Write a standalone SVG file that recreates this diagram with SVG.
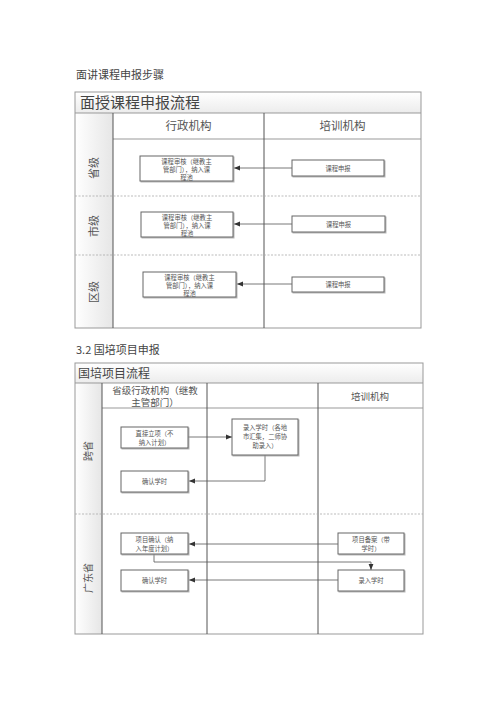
<svg xmlns="http://www.w3.org/2000/svg" width="500" height="707" viewBox="0 0 500 707">
<defs>
<linearGradient id="lg" x1="0" y1="0" x2="1" y2="0">
<stop offset="0" stop-color="#ffffff"/><stop offset="1" stop-color="#e6e6e6"/>
</linearGradient>
<linearGradient id="tg" x1="0" y1="0" x2="0" y2="1">
<stop offset="0" stop-color="#ffffff"/><stop offset="1" stop-color="#ececec"/>
</linearGradient>
<marker id="ah" viewBox="0 0 10 10" refX="10" refY="5" markerWidth="6" markerHeight="6" orient="auto" markerUnits="userSpaceOnUse">
<path d="M0,1 L10,5 L0,9 z" fill="#333"/>
</marker>
<filter id="sh" x="-10%" y="-10%" width="130%" height="140%">
<feDropShadow dx="1" dy="1" stdDeviation="0.6" flood-color="#999" flood-opacity="0.7"/>
</filter>
</defs>
<style>
text{font-family:"Noto Sans CJK SC","Noto Sans",sans-serif;fill:#444}
.h{font-size:11px}
.t1{font-size:15px;fill:#444}
.t2{font-size:12px;fill:#444}
.col{font-size:11.5px;fill:#555}
.lane{font-size:11px;fill:#555}
.bx{fill:#fff;stroke:#666;stroke-width:1;filter:url(#sh)}
.bt{font-size:6.3px;fill:#555}
.fr{fill:none;stroke:#999;stroke-width:1}
.dk{stroke:#555;stroke-width:1}
.ds{stroke:#aaa;stroke-width:0.8;stroke-dasharray:2 1.5}
.cn{fill:none;stroke:#555;stroke-width:0.8;marker-end:url(#ah)}
</style>
<rect width="500" height="707" fill="#fff"/>
<text x="76" y="79" class="h">面讲课程申报步骤</text>
<text x="76" y="354" class="h">3.2 国培项目申报</text>

<!-- Chart 1 -->
<g id="chart1">
<rect x="75" y="92" width="346" height="21" fill="url(#tg)"/>
<rect x="75" y="113" width="38" height="215" fill="url(#lg)"/>
<rect x="75" y="92" width="346" height="236" class="fr"/>
<line x1="75" y1="113" x2="421" y2="113" class="fr"/>
<line x1="113" y1="139" x2="421" y2="139" class="fr"/>
<line x1="113" y1="113" x2="113" y2="328" class="dk"/>
<line x1="264" y1="113" x2="264" y2="328" class="dk"/>
<line x1="75" y1="196" x2="421" y2="196" class="ds"/>
<line x1="75" y1="255" x2="421" y2="255" class="ds"/>
<text x="80" y="108" class="t1">面授课程申报流程</text>
<text x="188.5" y="130" class="col" text-anchor="middle">行政机构</text>
<text x="342.5" y="130" class="col" text-anchor="middle">培训机构</text>
<text transform="translate(98,168) rotate(-90)" class="lane" text-anchor="middle">省级</text>
<text transform="translate(98,226) rotate(-90)" class="lane" text-anchor="middle">市级</text>
<text transform="translate(98,292) rotate(-90)" class="lane" text-anchor="middle">区级</text>
</g>
<g id="c1-connectors">
<line x1="292" y1="168" x2="234" y2="168" class="cn"/>
<line x1="292" y1="224" x2="234" y2="224" class="cn"/>
<line x1="292" y1="284" x2="237" y2="284" class="cn"/>
</g>
<g id="c1-n1"><rect x="140" y="156" width="93" height="25" class="bx"/>
<text class="bt" text-anchor="middle"><tspan x="186.5" y="163.5">课程审核（继教主</tspan><tspan x="186.5" y="171.5">管部门），纳入课</tspan><tspan x="186.5" y="179.5">程池</tspan></text></g>
<g id="c1-n2"><rect x="292" y="160" width="92" height="16" class="bx"/><text x="338" y="170.5" class="bt" text-anchor="middle">课程申报</text></g>
<g id="c1-n3"><rect x="141" y="212" width="92" height="25" class="bx"/>
<text class="bt" text-anchor="middle"><tspan x="187" y="219.5">课程审核（继教主</tspan><tspan x="187" y="227.5">管部门），纳入课</tspan><tspan x="187" y="235.5">程池</tspan></text></g>
<g id="c1-n4"><rect x="292" y="216" width="93" height="16" class="bx"/><text x="338.5" y="226.5" class="bt" text-anchor="middle">课程申报</text></g>
<g id="c1-n5"><rect x="143" y="272" width="93" height="25" class="bx"/>
<text class="bt" text-anchor="middle"><tspan x="189.5" y="279.5">课程审核（继教主</tspan><tspan x="189.5" y="287.5">管部门），纳入课</tspan><tspan x="189.5" y="295.5">程池</tspan></text></g>
<g id="c1-n6"><rect x="292" y="277" width="92" height="15" class="bx"/><text x="338" y="287" class="bt" text-anchor="middle">课程申报</text></g>

<!-- Chart 2 -->
<g id="chart2">
<rect x="75" y="363" width="348" height="20" fill="url(#tg)"/>
<rect x="75" y="383" width="27" height="251" fill="url(#lg)"/>
<rect x="75" y="363" width="348" height="271" class="fr"/>
<line x1="75" y1="383" x2="423" y2="383" class="fr"/>
<line x1="102" y1="408" x2="423" y2="408" class="fr"/>
<line x1="102" y1="383" x2="102" y2="634" class="dk"/>
<line x1="207" y1="383" x2="207" y2="634" class="dk"/>
<line x1="318" y1="383" x2="318" y2="634" class="dk"/>
<line x1="75" y1="514" x2="423" y2="514" class="ds"/>
<text x="78" y="378" class="t2">国培项目流程</text>
<text class="col" text-anchor="middle" style="font-size:9.5px"><tspan x="155" y="393.5">省级行政机构（继教</tspan><tspan x="155" y="406">主管部门）</tspan></text>
<text x="370" y="400" class="col" text-anchor="middle" style="font-size:9.5px">培训机构</text>
<text transform="translate(92,451) rotate(-90)" class="lane" style="font-size:10px" text-anchor="middle">跨省</text>
<text transform="translate(92,578) rotate(-90)" class="lane" style="font-size:10px" text-anchor="middle">广东省</text>
</g>
<g id="c2-connectors">
<line x1="188" y1="437" x2="232" y2="437" class="cn"/>
<polyline points="265,455 265,481 189,481" class="cn"/>
<line x1="338" y1="544" x2="189" y2="544" class="cn"/>
<polyline points="154,554 154,562 371,562 371,570" class="cn"/>
<line x1="338" y1="580" x2="189" y2="580" class="cn"/>
</g>
<g id="c2-n1"><rect x="121" y="427" width="67" height="21" class="bx"/>
<text class="bt" text-anchor="middle"><tspan x="154.5" y="436">直接立项（不</tspan><tspan x="154.5" y="445">纳入计划）</tspan></text></g>
<g id="c2-n2"><rect x="232" y="419" width="66" height="36" class="bx"/>
<text class="bt" text-anchor="middle"><tspan x="265" y="430">录入学时（各地</tspan><tspan x="265" y="439">市汇集，二师协</tspan><tspan x="265" y="448">助录入）</tspan></text></g>
<g id="c2-n3"><rect x="121" y="471" width="67" height="21" class="bx"/><text x="154.5" y="484" class="bt" text-anchor="middle">确认学时</text></g>
<g id="c2-n4"><rect x="121" y="533" width="67" height="21" class="bx"/>
<text class="bt" text-anchor="middle"><tspan x="154.5" y="542">项目确认（纳</tspan><tspan x="154.5" y="551">入年度计划）</tspan></text></g>
<g id="c2-n5"><rect x="338" y="533" width="66" height="21" class="bx"/>
<text class="bt" text-anchor="middle"><tspan x="371" y="542">项目备案（带</tspan><tspan x="371" y="551">学时）</tspan></text></g>
<g id="c2-n6"><rect x="121" y="570" width="67" height="21" class="bx"/><text x="154.5" y="583" class="bt" text-anchor="middle">确认学时</text></g>
<g id="c2-n7"><rect x="338" y="570" width="66" height="21" class="bx"/><text x="371" y="583" class="bt" text-anchor="middle">录入学时</text></g>
</svg>
